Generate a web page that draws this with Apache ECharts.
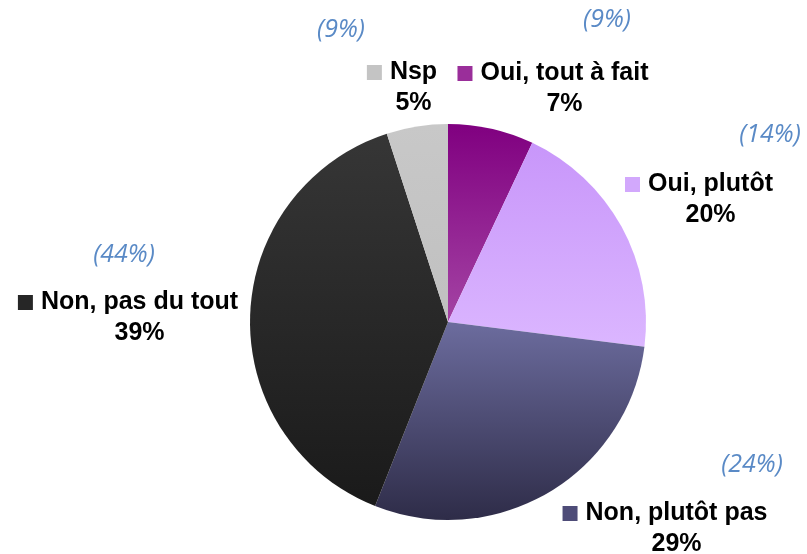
<!DOCTYPE html>
<html>
<head>
<meta charset="utf-8">
<script src="https://cdn.jsdelivr.net/npm/echarts@6/dist/echarts.min.js"></script>
<style>
  html, body { margin: 0; padding: 0; background: #fff; }
  #chart { width: 807px; height: 554px; }
</style>
</head>
<body>
<div id="chart"></div>
<script>
// données du camembert (sens horaire depuis midi)
const categories = ['Oui, tout à fait', 'Oui, plutôt', 'Non, plutôt pas', 'Non, pas du tout', 'Nsp'];
const values = [7, 20, 29, 39, 5];
// rappel de la vague précédente (en italique bleu)
const previousValues = [9, 14, 24, 44, 9];

// couleurs : dégradé vertical haut -> bas
const topColors = ['#800080', '#c896fa', '#6c6c9e', '#363636', '#c8c8c8'];
const bottomColors = ['#a444a4', '#dbb6ff', '#2e2c48', '#1a1a1a', '#c0c0c0'];
const markerColors = ['#9a2e9a', '#d2a8fc', '#4e4c78', '#262626', '#c4c4c4'];

// emplacement des étiquettes (centre du bloc)
const labelPos = [[553, 89], [699, 200], [665, 529], [128, 318], [402, 88]];
const prevPos = [[607, 20], [770, 135], [752, 465], [124, 255], [341, 30]];

const dom = document.getElementById('chart');
const chart = echarts.init(dom);

const rich = {
    s: { width: 23 },
    n: { fontSize: 25, fontWeight: 'bold', color: '#000', lineHeight: 31, padding: [0, 0, 0, 8] },
    p: { fontSize: 25, fontWeight: 'bold', color: '#000', lineHeight: 31 }
};
markerColors.forEach((c, i) => {
    rich['m' + i] = { width: 15, height: 15, backgroundColor: c };
});

const option = {
    backgroundColor: '#fff',
    textStyle: { fontFamily: '"Liberation Sans", Arial, sans-serif' },
    graphic: previousValues.map((v, i) => ({
        type: 'text',
        x: prevPos[i][0],
        y: prevPos[i][1],
        style: {
            text: '(' + v + '%)',
            fill: '#5a8ac6',
            font: 'italic 25px "Open Sans", "Liberation Sans", sans-serif',
            align: 'center',
            verticalAlign: 'middle'
        }
    })),
    series: [{
        type: 'pie',
        center: [448, 322],
        radius: 198,
        startAngle: 90,
        clockwise: true,
        animation: false,
        data: categories.map((name, i) => ({
            name: name,
            value: values[i],
            itemStyle: {
                color: new echarts.graphic.LinearGradient(0, 0, 0, 1, [
                    { offset: 0, color: topColors[i] },
                    { offset: 1, color: bottomColors[i] }
                ])
            }
        })),
        label: {
            show: true,
            position: 'outside',
            align: 'center',
            overflow: 'none',
            formatter: function (p) {
                return '{m' + p.dataIndex + '|}{n|' + p.name + '}\n{s|}{p|' + p.value + '%}';
            },
            rich: rich
        },
        labelLine: { show: false },
        labelLayout: function (params) {
            const pos = labelPos[params.dataIndex];
            return { x: pos[0], y: pos[1], align: 'center', verticalAlign: 'middle' };
        },
        emphasis: { disabled: true }
    }]
};

chart.setOption(option);
</script>
</body>
</html>
